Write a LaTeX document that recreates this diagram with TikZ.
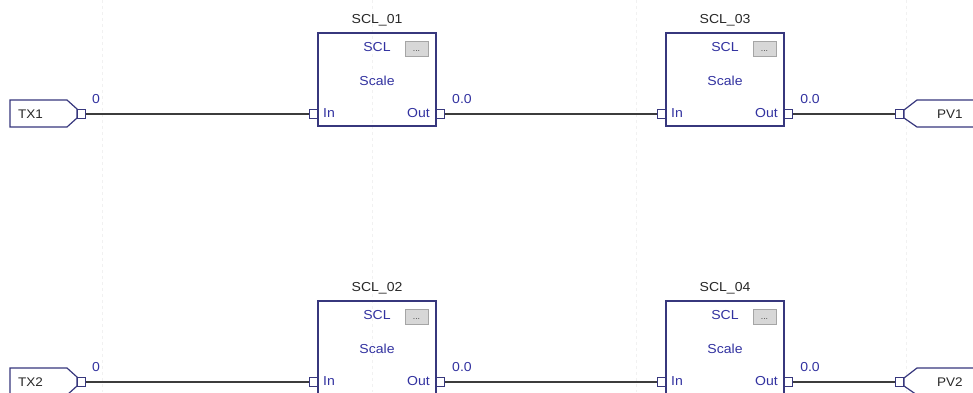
\documentclass[tikz,border=0pt]{standalone}
\usepackage{fontspec}
\setmainfont{Liberation Sans}[FakeStretch=1.08]
\definecolor{boxc}{RGB}{55,55,125}
\definecolor{txtblue}{RGB}{50,50,160}
\definecolor{wirec}{RGB}{60,60,60}
\definecolor{titlec}{RGB}{40,40,40}
\definecolor{btnfill}{RGB}{215,215,215}
\definecolor{btndraw}{RGB}{165,165,165}
\definecolor{gridc}{RGB}{241,241,241}
\newcommand\fsmain{\fontsize{13}{15}\selectfont}
\newcommand\fstag{\fontsize{12.5}{14}\selectfont}
\tikzset{
  blk/.style={draw=boxc, line width=1.2pt, minimum width=118pt, minimum height=93pt, inner sep=0pt},
  pinbox/.style={draw=boxc, fill=white, line width=1pt, minimum width=8pt, minimum height=8.5pt, inner sep=0pt},
  wire/.style={draw=wirec, line width=1.2pt},
  ttl/.style={font=\fsmain, text=titlec, inner sep=0pt},
  btxt/.style={font=\fsmain, text=txtblue, inner sep=0pt},
  btn/.style={draw=btndraw, fill=btnfill, line width=0.6pt, minimum width=23pt, minimum height=15pt, inner sep=0pt},
  tagshape/.style={draw=boxc, line width=1.2pt, fill=white},
  tagtxt/.style={font=\fstag, text=titlec, inner sep=0pt},
  gridline/.style={draw=gridc, line width=0.8pt, dash pattern=on 3pt off 3pt},
}
\begin{document}
\begin{tikzpicture}[x=1pt,y=-1pt]
\clip (0,0) rectangle (973,392);
\fill[white] (0,0) rectangle (973,392);
% faint sheet grid
\foreach \gx in {102,372,636,906}{
  \draw[gridline] (\gx,0) -- (\gx,392);
}
% function blocks
\foreach \n/\L/\T/\lab in {b1/318/33/SCL\_01, b3/666/33/SCL\_03, b2/318/301/SCL\_02, b4/666/301/SCL\_04}{
  \node[blk] (\n) at (\L+59,\T+46.5) {};
  \node[pinbox, anchor=east] (\n-in) at (\L,\T+81) {};
  \node[pinbox, anchor=west] (\n-out) at (\L+118,\T+81) {};
  \node[ttl] (\n-ttl) at (\L+59,\T-13) {\lab};
  \node[btxt] (\n-typ) at (\L+59,\T+14.5) {SCL};
  \node[btn] (\n-btn) at (\L+98.5,\T+16) {};
  \node[font=\fontsize{8}{9}\selectfont, text=wirec, inner sep=0pt] (\n-dots) at (\L+98.5,\T+18.5) {...};
  \node[btxt] (\n-desc) at (\L+59,\T+47.5) {Scale};
  \node[btxt, anchor=west] (\n-inl) at (\L+5,\T+80.5) {In};
  \node[btxt, anchor=east] (\n-outl) at (\L+112,\T+80.5) {Out};
  \node[btxt] (\n-val) at (\L+144,\T+66) {0.0};
}
% input and output tags
\foreach \r/\W in {1/114, 2/382}{
  \draw[tagshape] (10,\W-14) -- (67,\W-14) -- (77,\W-5) -- (77,\W+4) -- (67,\W+13) -- (10,\W+13) -- cycle;
  \node[tagtxt, anchor=west] (tx\r) at (18,\W) {TX\r};
  \node[pinbox, anchor=west] (tx\r-pin) at (77,\W) {};
  \node[btxt] (tx\r-val) at (96,\W-15) {0};
  \draw[tagshape] (904,\W-4) -- (917,\W-14) -- (985,\W-14) -- (985,\W+13) -- (917,\W+13) -- (904,\W+4) -- cycle;
  \node[tagtxt, anchor=west] (pv\r) at (937,\W) {PV\r};
  \node[pinbox, anchor=east] (pv\r-pin) at (904,\W) {};
}
% wires
\draw[wire] (tx1-pin) -- (b1-in);
\draw[wire] (b1-out) -- (b3-in);
\draw[wire] (b3-out) -- (pv1-pin);
\draw[wire] (tx2-pin) -- (b2-in);
\draw[wire] (b2-out) -- (b4-in);
\draw[wire] (b4-out) -- (pv2-pin);
\end{tikzpicture}
\end{document}
